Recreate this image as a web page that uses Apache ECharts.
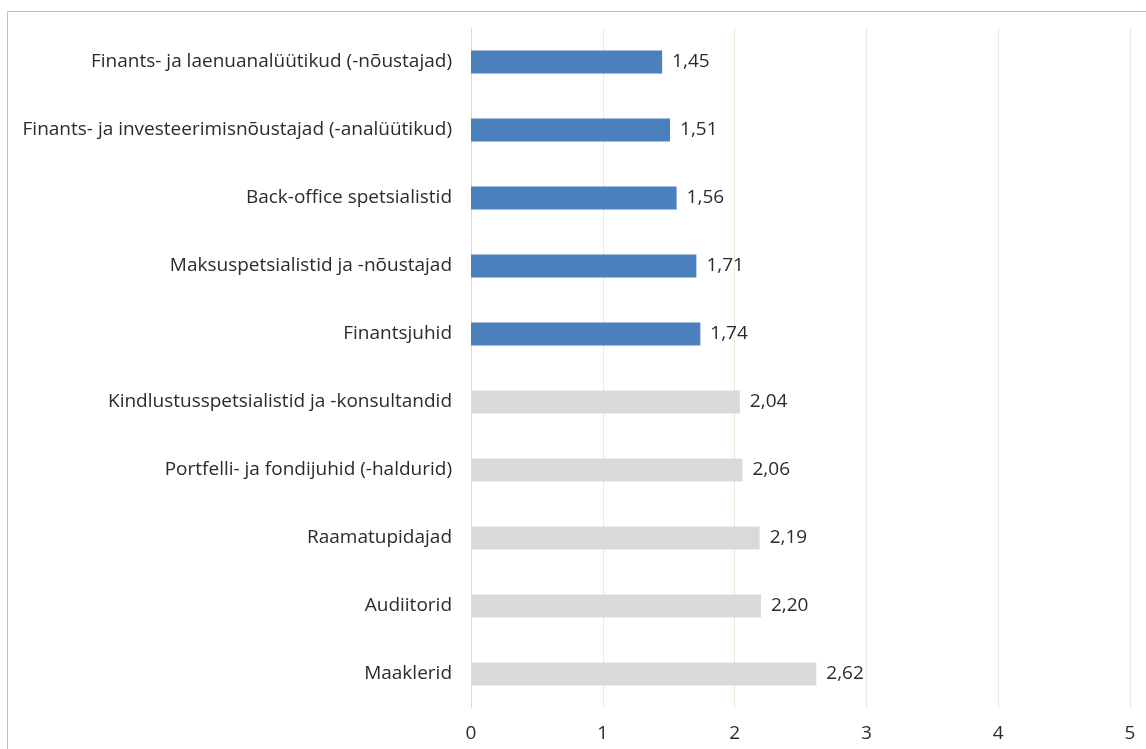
<!DOCTYPE html>
<html>
<head>
<meta charset="utf-8">
<script src="https://cdn.jsdelivr.net/npm/echarts@6/dist/echarts.min.js"></script>
<style>
  html, body { margin: 0; padding: 0; background: #ffffff; }
  #chart { width: 1146px; height: 749px; }
</style>
</head>
<body>
<div id="chart"></div>
<script>
// Occupations, listed top to bottom
const categories = [
  'Finants- ja laenuanalüütikud (-nõustajad)',
  'Finants- ja investeerimisnõustajad (-analüütikud)',
  'Back-office spetsialistid',
  'Maksuspetsialistid ja -nõustajad',
  'Finantsjuhid',
  'Kindlustusspetsialistid ja -konsultandid',
  'Portfelli- ja fondijuhid (-haldurid)',
  'Raamatupidajad',
  'Audiitorid',
  'Maaklerid'
];
// Score per occupation
const values = [1.45, 1.51, 1.56, 1.71, 1.74, 2.04, 2.06, 2.19, 2.20, 2.62];
// Whether the occupation is highlighted (blue) or not (grey)
const highlighted = [true, true, true, true, true, false, false, false, false, false];
const xTicks = [0, 1, 2, 3, 4, 5];

const BLUE = '#4a81bd';
const GREY = '#d9d9d9';
const TEXT = '#2b2b2b';
const FONT = '"Open Sans", "Noto Sans", sans-serif';
const SIZE = 19;

const chart = echarts.init(document.getElementById('chart'), null, { renderer: 'canvas' });

chart.setOption({
  animation: false,
  backgroundColor: '#ffffff',
  graphic: [{
    type: 'polyline',
    shape: { points: [[7.5, 760], [7.5, 11.5], [1160, 11.5]] },
    style: { stroke: '#bfbfbf', lineWidth: 1, fill: null },
    silent: true
  }],
  grid: { left: 471, right: 16, top: 28, height: 680, containLabel: false },
  xAxis: {
    type: 'value',
    min: xTicks[0],
    max: xTicks[xTicks.length - 1],
    interval: 1,
    axisLine: { show: false },
    axisTick: { show: false },
    splitLine: { show: true, lineStyle: { color: '#efe9dc', width: 1 } },
    axisLabel: { color: TEXT, fontFamily: FONT, fontSize: SIZE, margin: 16 }
  },
  yAxis: {
    type: 'category',
    inverse: true,
    data: categories,
    axisLine: { show: true, lineStyle: { color: '#d9d9d9', width: 1 } },
    axisTick: { show: false },
    axisLabel: { color: TEXT, fontFamily: FONT, fontSize: SIZE, margin: 19 }
  },
  series: [{
    type: 'bar',
    barWidth: 23,
    data: values.map((v, i) => ({
      value: v,
      itemStyle: { color: highlighted[i] ? BLUE : GREY }
    })),
    label: {
      show: true,
      position: 'right',
      distance: 10,
      color: TEXT,
      fontFamily: FONT,
      fontSize: SIZE,
      formatter: p => p.value.toFixed(2).replace('.', ',')
    }
  }]
});
</script>
</body>
</html>
